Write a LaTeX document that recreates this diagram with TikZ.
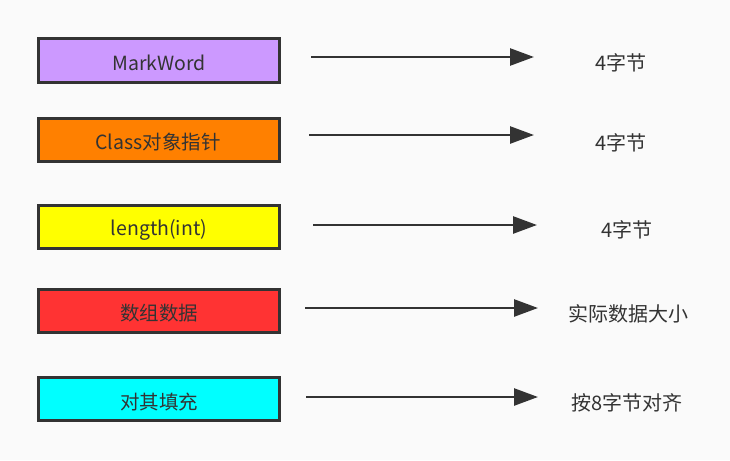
\documentclass[tikz,border=0pt]{standalone}
\usepackage{fontspec}
\setmainfont{Noto Sans CJK SC}
\usetikzlibrary{arrows.meta}
\definecolor{bg}{HTML}{FAFAFA}
\definecolor{ink}{HTML}{333333}
\definecolor{cpurple}{HTML}{CC99FF}
\definecolor{corange}{HTML}{FF8000}
\definecolor{cyellow}{HTML}{FFFF00}
\definecolor{cred}{HTML}{FF3333}
\definecolor{ccyan}{HTML}{00FFFF}
\tikzset{
  field/.style={draw=ink, line width=3pt, minimum width=241pt, minimum height=43pt, inner sep=0pt},
  fieldtext/.style={text=ink, font=\fontsize{19.5}{22}\selectfont, inner sep=0pt},
  sizelabel/.style={text=ink, font=\fontsize{20}{23}\selectfont, inner sep=0pt},
  conn/.style={draw=ink, line width=2.6pt, -{Triangle[length=24pt,width=17pt]}}
}
\begin{document}
\begin{tikzpicture}[x=1pt,y=-1pt]
\fill[bg] (0,0) rectangle (730,460);
\useasboundingbox (0,0) rectangle (730,460);
\node[field, fill=cpurple] (b1) at (159,60.5) {};
\node[field, fill=corange] (b2) at (159,139.5) {};
\node[field, fill=cyellow] (b3) at (159,226.5) {};
\node[field, fill=cred] (b4) at (159,310.5) {};
\node[field, fill=ccyan] (b5) at (159,398.5) {};
\node[fieldtext] (l1) at (159,63) {MarkWord};
\node[fieldtext] (l2) at (158,142) {Class对象指针};
\node[fieldtext] (l3) at (159,230) {length(int)};
\node[fieldtext] (l4) at (159,313) {数组数据};
\node[fieldtext] (l5) at (159,402) {对其填充};
\node[sizelabel] (t1) at (621,63) {4字节};
\node[sizelabel] (t2) at (621,143) {4字节};
\node[sizelabel] (t3) at (627,230) {4字节};
\node[sizelabel] (t4) at (628,314) {实际数据大小};
\node[sizelabel] (t5) at (627,403) {按8字节对齐};
\coordinate (s1) at (311,57); \coordinate (e1) at (534,57);
\coordinate (s2) at (309,135); \coordinate (e2) at (534,135);
\coordinate (s3) at (313,225); \coordinate (e3) at (537,225);
\coordinate (s4) at (305,308); \coordinate (e4) at (538,308);
\coordinate (s5) at (306,397); \coordinate (e5) at (538,397);
\draw[conn] (s1) -- (e1);
\draw[conn] (s2) -- (e2);
\draw[conn] (s3) -- (e3);
\draw[conn] (s4) -- (e4);
\draw[conn] (s5) -- (e5);
\end{tikzpicture}
\end{document}
